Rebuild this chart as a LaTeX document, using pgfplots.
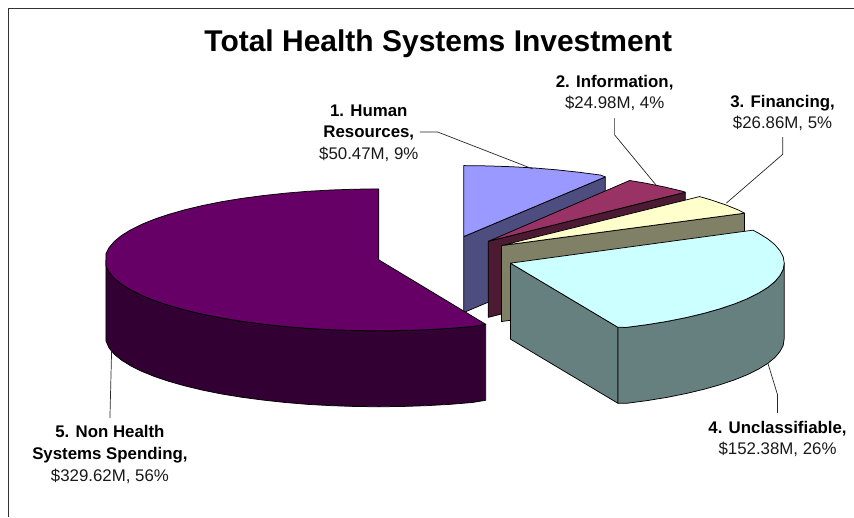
\documentclass[border=0pt]{standalone}
\usepackage{pgfplots}
\pgfplotsset{compat=1.18}
\usepackage{fontspec}
\setmainfont{Liberation Sans}
\definecolor{topA}{HTML}{9999FF}\definecolor{sideA}{HTML}{4D4D80}
\definecolor{topB}{HTML}{993366}\definecolor{sideB}{HTML}{4D1A33}
\definecolor{topC}{HTML}{FFFFCC}\definecolor{sideC}{HTML}{808066}
\definecolor{topD}{HTML}{CCFFFF}\definecolor{sideD}{HTML}{668080}
\definecolor{topE}{HTML}{660066}\definecolor{sideE}{HTML}{330033}
\tikzset{
  slice/.style={draw=black, line width=0.75pt},
  lead/.style={draw=black!85, line width=0.7pt},
  lab/.style={anchor=base, align=center, inner sep=0pt, text=black!90, font=\fontsize{16.85}{19}\selectfont},
  blab/.style={anchor=base, align=center, inner sep=0pt, font=\fontsize{16.85}{19}\selectfont\bfseries},
}
\begin{document}
\begin{tikzpicture}
\begin{axis}[
  scale only axis, width=854pt, height=517pt,
  xmin=0, xmax=854, ymin=0, ymax=517, y dir=reverse,
  hide axis, clip=false,
  every axis plot/.append style={no marks, line join=round},
]
% page extent
\addplot[draw=none] coordinates {(0,0) (854,0) (854,517) (0,517)};
% frame
\addplot[draw=black!80, line width=1pt] coordinates {(9,517) (9,9) (854,9)};

% 1. Human Resources
\addplot[slice, fill=sideA] coordinates {(464,236.7) (605.7,177) (605.7,253) (464,312.7) (464,236.7)};
\addplot[slice, fill=topA] coordinates {(464,236.7) (464,165.7) (487.9,166) (511.6,166.8) (534.9,168.1) (557.7,170) (579.8,172.4) (601,175.2) (605.7,177) (464,236.7)};
% 2. Information
\addplot[slice, fill=sideB] coordinates {(488.5,241.5) (685.7,192.3) (685.7,268.3) (488.5,317.5) (488.5,241.5)};
\addplot[slice, fill=topB] coordinates {(488.5,241.5) (630,180.6) (646.2,183.3) (665.1,187.1) (682.7,191.3) (685.7,192.3) (488.5,241.5)};
% 3. Financing
\addplot[slice, fill=sideC] coordinates {(501.7,245.7) (745,213.3) (745,289.3) (501.7,321.7) (501.7,245.7)};
\addplot[slice, fill=topC] coordinates {(501.7,245.7) (700,196.7) (711.6,200.1) (726.2,205) (739,210.2) (745,213.3) (501.7,245.7)};
% 4. Unclassifiable
\addplot[slice, fill=sideD] coordinates {(510.7,263.3) (618.3,327.5) (618.3,403.5) (510.7,339.3) (510.7,263.3)};
\addplot[slice, fill=sideD] coordinates {(784.7,263.3) (783.7,269.5) (780.5,275.6) (775.4,281.7) (768.2,287.6) (759,293.3) (748,298.8) (735.2,304) (720.6,308.9) (704.4,313.5) (686.8,317.7) (667.9,321.5) (647.7,324.8) (626.5,327.6) (618.3,327.5) (618.3,403.5) (626.5,403.6) (647.7,400.8) (667.9,397.5) (686.8,393.7) (704.4,389.5) (720.6,384.9) (735.2,380) (748,374.8) (759,369.3) (768.2,363.6) (775.4,357.7) (780.5,351.6) (783.7,345.5) (784.7,338.5) (784.7,263.3)};
\addplot[slice, fill=topD] coordinates {(510.7,263.3) (753.3,230.3) (759,233.3) (768.2,239) (775.4,244.9) (780.5,251) (783.7,257.1) (784.7,263.3) (783.7,269.5) (780.5,275.6) (775.4,281.7) (768.2,287.6) (759,293.3) (748,298.8) (735.2,304) (720.6,308.9) (704.4,313.5) (686.8,317.7) (667.9,321.5) (647.7,324.8) (626.5,327.6) (618.3,327.5) (510.7,263.3)};
% 5. Non Health Systems Spending
\addplot[slice, fill=sideE] coordinates {(106,260) (106,266.2) (109.2,272.3) (114.3,278.4) (121.5,284.3) (130.7,290) (141.7,295.5) (154.5,300.7) (169.1,305.6) (185.3,310.2) (202.9,314.4) (221.8,318.2) (242,321.5) (263.2,324.3) (285.3,326.7) (308.1,328.6) (331.4,329.9) (355.1,330.7) (379,331) (402.9,330.7) (426.6,329.9) (449.9,328.6) (472.7,326.7) (486,324.5) (486,400.5) (472.7,402.7) (449.9,404.6) (426.6,405.9) (402.9,406.7) (379,407) (355.1,406.7) (331.4,405.9) (308.1,404.6) (285.3,402.7) (263.2,400.3) (242,397.5) (221.8,394.2) (202.9,390.4) (185.3,386.2) (169.1,381.6) (154.5,376.7) (141.7,371.5) (130.7,366) (121.5,360.3) (114.3,354.4) (109.2,348.3) (106,341) (106,260)};
\addplot[slice, fill=topE] coordinates {(379,260) (379,189) (355.1,189.3) (331.4,190.1) (308.1,191.4) (285.3,193.3) (263.2,195.7) (242,198.5) (221.8,201.8) (202.9,205.6) (185.3,209.8) (169.1,214.4) (154.5,219.3) (141.7,224.5) (130.7,230) (121.5,235.7) (114.3,241.6) (109.2,247.7) (106,253.8) (106,260) (106,266.2) (109.2,272.3) (114.3,278.4) (121.5,284.3) (130.7,290) (141.7,295.5) (154.5,300.7) (169.1,305.6) (185.3,310.2) (202.9,314.4) (221.8,318.2) (242,321.5) (263.2,324.3) (285.3,326.7) (308.1,328.6) (331.4,329.9) (355.1,330.7) (379,331) (402.9,330.7) (426.6,329.9) (449.9,328.6) (472.7,326.7) (486,324.5) (379,260)};

% leader lines
\addplot[lead] coordinates {(420,132) (437.7,132) (533,169)};
\addplot[lead] coordinates {(615,118.3) (615,135) (656.7,185.5)};
\addplot[lead] coordinates {(783.3,137.3) (783.3,154.3) (726.7,203.3)};
\addplot[lead] coordinates {(768.3,363.3) (778,395) (778,413)};
\addplot[lead] coordinates {(111.7,350) (110,418)};

% title
\node[anchor=base, inner sep=0pt, font=\fontsize{30}{34}\selectfont\bfseries] at (axis cs:438.5,52) {Total Health Systems Investment};
% labels
\node[blab] at (axis cs:369,116.5) {1. Human};
\node[blab] at (axis cs:369,138) {Resources,};
\node[lab]  at (axis cs:369,160) {\$50.47M, 9\%};
\node[blab] at (axis cs:615,88) {2. Information,};
\node[lab]  at (axis cs:615,109) {\$24.98M, 4\%};
\node[blab] at (axis cs:783,107.5) {3. Financing,};
\node[lab]  at (axis cs:783,128.5) {\$26.86M, 5\%};
\node[blab] at (axis cs:778,434) {4. Unclassifiable,};
\node[lab]  at (axis cs:778,455) {\$152.38M, 26\%};
\node[blab] at (axis cs:110,438) {5. Non Health};
\node[blab] at (axis cs:110,460) {Systems Spending,};
\node[lab]  at (axis cs:110,481.5) {\$329.62M, 56\%};
\end{axis}
\end{tikzpicture}
\end{document}
